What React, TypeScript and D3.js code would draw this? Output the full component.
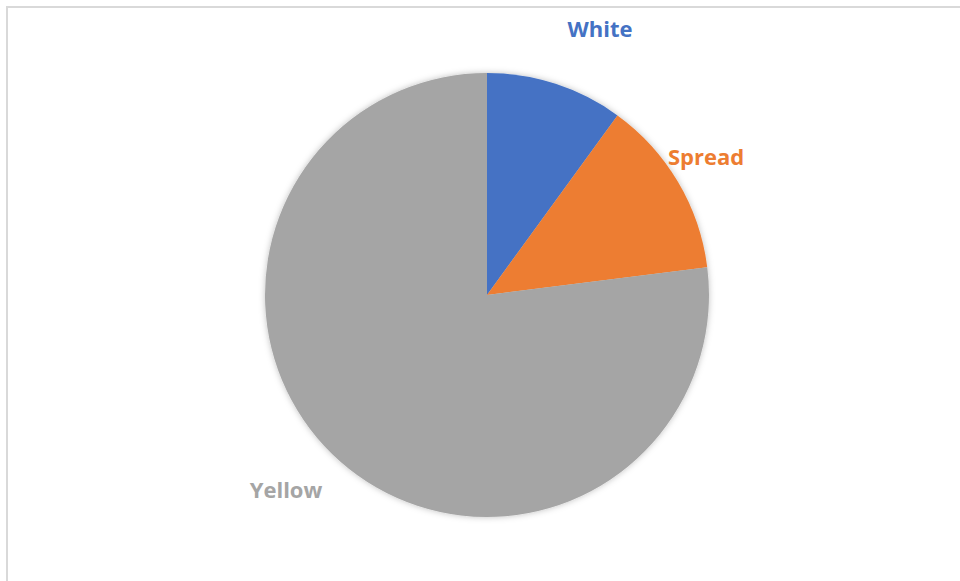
import React from "react";
import * as d3 from "d3";

const categories = ["White", "Spread", "Yellow"];
const values = [10, 13, 77];
const colors = ["#4472C4", "#ED7D31", "#A5A5A5"];
const labelPos: [number, number][] = [[600, 28], [706, 156], [286, 489]];

export default function App() {
  const W = 960, H = 581;
  const cx = 487, cy = 295, r = 222;
  const pie = d3.pie<number>().sort(null).value(d => d)(values);
  const arc = d3.arc<d3.PieArcDatum<number>>().innerRadius(0).outerRadius(r);
  return (
    <svg width={W} height={H} style={{ position: "absolute", left: 0, top: 0, background: "#fff" }}>
      <defs>
        <filter id="sh" x="-20%" y="-20%" width="140%" height="140%">
          <feDropShadow dx="0" dy="0" stdDeviation="3" floodColor="#000" floodOpacity="0.25" />
        </filter>
      </defs>
      <rect x={7} y={7} width={W} height={H} fill="#fff" stroke="#d9d9d9" strokeWidth={2} />
      <g transform={`translate(${cx},${cy})`} filter="url(#sh)">
        {pie.map((p, i) => (
          <path key={categories[i]} d={arc(p) || ""} fill={colors[i]} />
        ))}
      </g>
      {categories.map((c, i) => (
        <text key={c} x={labelPos[i][0]} y={labelPos[i][1]} textAnchor="middle" dominantBaseline="central"
          fontFamily="'Open Sans', sans-serif" fontWeight="bold" fontSize={22} fill={colors[i]}>
          {c}
        </text>
      ))}
    </svg>
  );
}
